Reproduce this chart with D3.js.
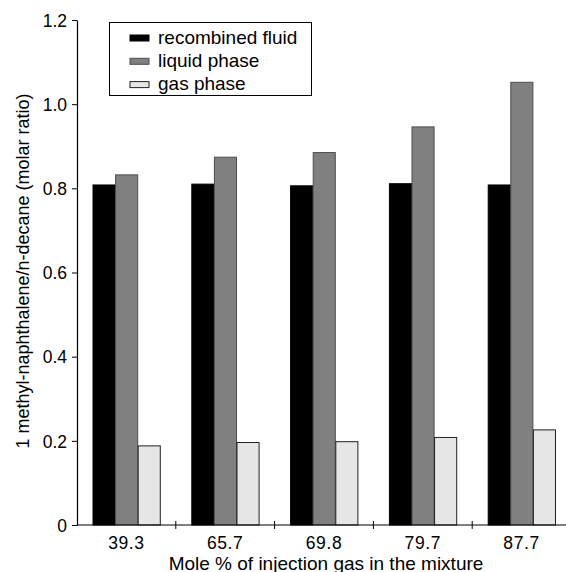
<!DOCTYPE html>
<html>
<head>
<meta charset="utf-8">
<script src="https://cdn.jsdelivr.net/npm/d3@7"></script>
<style>
  body { margin: 0; background: #fff; }
  text { font-family: "Liberation Sans", Arial, sans-serif; fill: #000; }
</style>
</head>
<body>
<svg width="566" height="572"></svg>
<script>
// data
const categories = ["39.3", "65.7", "69.8", "79.7", "87.7"];
const series = ["recombined fluid", "liquid phase", "gas phase"];
const recombined = [0.808, 0.810, 0.806, 0.811, 0.808];
const liquid = [0.832, 0.874, 0.885, 0.946, 1.052];
const gas = [0.188, 0.196, 0.198, 0.208, 0.226];
const yTicks = [0, 0.2, 0.4, 0.6, 0.8, 1.0, 1.2];

const fills = ["#000000", "#808080", "#e6e6e6"];
const strokes = ["#000000", "#4d4d4d", "#222222"];

const values = [recombined, liquid, gas];
const rows = categories.map((c, i) => ({ cat: c, vals: values.map(v => v[i]) }));

const svg = d3.select("svg");
const mLeft = 77, mRight = 571, mTop = 20, mBottom = 525;

const x0 = d3.scaleBand()
  .domain(categories)
  .range([mLeft, mRight])
  .paddingInner(0.314)
  .paddingOuter(0.157);

const x1 = d3.scaleBand()
  .domain(d3.range(series.length))
  .range([0, x0.bandwidth()]);

const y = d3.scaleLinear().domain([0, 1.2]).range([mBottom, mTop]);

// bars
const group = svg.selectAll(".grp")
  .data(rows)
  .enter().append("g")
  .attr("class", "grp")
  .attr("transform", d => `translate(${x0(d.cat)},0)`);

group.selectAll("rect")
  .data(d => d.vals)
  .enter().append("rect")
  .attr("x", (d, i) => x1(i) + 0.5)
  .attr("width", x1.bandwidth() - 0.5)
  .attr("y", d => y(d))
  .attr("height", d => y(0) - y(d))
  .attr("fill", (d, i) => fills[i])
  .attr("stroke", (d, i) => strokes[i])
  .attr("stroke-width", 1);

// y axis
const yAxis = svg.append("g")
  .attr("transform", `translate(${mLeft},0)`)
  .call(d3.axisLeft(y).tickValues(yTicks)
    .tickFormat(d => d === 0 ? "0" : d3.format(".1f")(d))
    .tickSize(5).tickPadding(5).tickSizeOuter(0));
yAxis.selectAll("text").style("font-size", "17.5px").attr("dy", "0.36em");
yAxis.select(".domain").attr("stroke-width", 1.2);

// x axis: ticks sit between groups
const step = x0.step();
const bounds = categories.map((c, i) => mLeft + step * (i + 1));
const xAxis = svg.append("g").attr("transform", `translate(0,${mBottom})`);
xAxis.append("line")
  .attr("x1", mLeft).attr("x2", mRight)
  .attr("stroke", "#000").attr("stroke-width", 1.2);
xAxis.selectAll(".tk")
  .data(bounds)
  .enter().append("line")
  .attr("x1", d => d).attr("x2", d => d)
  .attr("y1", -4).attr("y2", 4)
  .attr("stroke", "#000");
xAxis.selectAll(".lbl")
  .data(categories)
  .enter().append("text")
  .attr("x", d => x0(d) + x0.bandwidth() / 2)
  .attr("y", 24)
  .attr("text-anchor", "middle")
  .style("font-size", "17.5px")
  .style("letter-spacing", "0.6px")
  .text(d => d);

// axis titles
svg.append("text")
  .attr("x", 326).attr("y", 570)
  .attr("text-anchor", "middle")
  .style("font-size", "19px")
  .text("Mole % of injection gas in the mixture");

svg.append("text")
  .attr("transform", "translate(29,271) rotate(-90)")
  .attr("text-anchor", "middle")
  .style("font-size", "18px")
  .text("1 methyl-naphthalene/n-decane (molar ratio)");

// legend
const legend = svg.append("g");
legend.append("rect")
  .attr("x", 109.5).attr("y", 22.5)
  .attr("width", 202).attr("height", 73)
  .attr("fill", "#fff").attr("stroke", "#000");
const item = legend.selectAll(".item")
  .data(series)
  .enter().append("g")
  .attr("transform", (d, i) => `translate(130,${35 + i * 23.3})`);
item.append("rect")
  .attr("width", 19).attr("height", 6)
  .attr("fill", (d, i) => fills[i])
  .attr("stroke", (d, i) => strokes[i]);
item.append("text")
  .attr("x", 28).attr("y", 8.5)
  .style("font-size", "19px")
  .text(d => d);
</script>
</body>
</html>
